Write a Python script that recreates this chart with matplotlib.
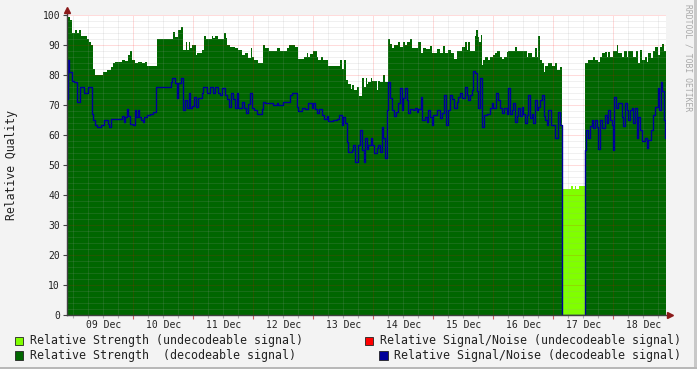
import numpy as np
import matplotlib
matplotlib.use('Agg')
import matplotlib.pyplot as plt
from matplotlib.patches import Rectangle

# ── data (time in hours since 09 Dec 00:00) ──────────────────────────────────
t_start = -2.53
t_end = 237.1

strength_t = [-2.5, -2.1, -1.3, -0.5, 0.7, 1.5, 2.3, 3.1, 5.5, 6.3, 7.1, 7.9, 8.7,
              11.9, 13.5, 15.1, 15.9, 16.7, 19.5, 20.7, 21.9, 22.7, 23.5, 24.7,
              25.9, 27.5, 28.7, 29.5, 33.5, 39.9, 40.7, 41.9, 43.1, 43.9, 45.1,
              45.5, 46.3, 46.7, 47.5, 49.1, 49.5, 51.5, 52.3, 53.1, 55.5, 55.9,
              56.7, 57.9, 60.3, 61.1, 61.5, 62.7, 64.7, 65.9, 67.5, 68.7, 69.9,
              71.1, 71.5, 72.3, 73.9, 75.9, 76.7, 78.3, 81.5, 82.7, 85.5, 86.3,
              88.7, 89.9, 92.3, 93.5, 93.9, 94.7, 95.9, 97.5, 97.9, 99.1, 99.9,
              101.9, 106.7, 107.5, 108.3, 109.1, 109.9, 111.1, 111.5, 112.3,
              113.5, 114.3, 115.5, 116.3, 117.1, 117.5, 117.9, 119.1, 119.5,
              121.5, 121.9, 122.7, 123.9, 124.7, 125.9, 126.7, 127.5, 128.3,
              129.9, 130.7, 131.9, 132.7, 133.5, 134.7, 135.5, 137.9, 139.1,
              139.9, 141.1, 142.7, 143.5, 145.5, 146.7, 147.9, 148.7, 149.9,
              151.1, 152.3, 153.5, 155.5, 156.7, 157.5, 157.9, 158.7, 160.7,
              161.1, 161.9, 162.3, 163.1, 163.5, 163.9, 164.7, 165.9, 166.7,
              167.9, 168.7, 169.5, 170.7, 171.5, 172.3, 173.5, 173.9, 176.7,
              177.5, 181.5, 181.9, 183.5, 184.7, 185.5, 185.9, 186.7, 187.5,
              188.3, 188.7, 189.9, 191.5, 192.7, 193.5, 194.7, 195.5, 204.7,
              205.9, 207.9, 208.7, 209.9, 210.7, 211.5, 212.7, 213.5, 213.9,
              214.7, 215.9, 217.5, 217.9, 219.5, 220.3, 221.5, 221.9, 223.9,
              225.1, 225.9, 226.7, 227.5, 228.7, 229.5, 229.9, 231.1, 231.9,
              232.7, 233.9, 234.7, 235.5, 236.3]
strength_v = [91, 99.5, 98.5, 94, 95, 94, 95, 93, 92, 91, 90, 82, 80,
              81, 81.7, 82.6, 84, 84.5, 85, 84.7, 86.7, 88, 85, 84,
              84.5, 84, 84.5, 83, 92, 94.5, 92.8, 95, 96, 88.3, 91,
              88.5, 91, 89, 90, 86.7, 87.3, 88.3, 93, 92, 93, 92.3,
              93, 92, 94, 92.5, 90, 89.3, 89, 88.3, 86.7, 87.5, 85.8,
              89, 86, 85, 84, 90, 89, 88, 89, 88, 89, 90,
              89.3, 85.2, 86, 87.3, 86, 87, 88, 86, 85, 86, 85,
              83, 85, 82, 85, 78.3, 77, 75.2, 76.7, 75,
              76, 73, 78.9, 76, 79, 77, 77.8, 79, 78,
              75, 78, 77.8, 80, 77.8, 92, 90.5, 89, 90,
              91, 89.5, 91, 90, 91, 92, 89, 91, 87.3,
              89, 88.6, 89.7, 87.3, 88.6, 87.3, 89.7, 87.3, 88.3,
              87.3, 85.2, 88, 89.3, 91, 88.3, 91, 88, 93,
              95, 92.7, 91, 93.3, 83.3, 85, 86, 85, 86,
              86.7, 87.3, 88, 86, 85.2, 86, 87.7, 88, 89.3,
              88, 86, 87.3, 86, 89, 86, 93, 85, 84,
              81.1, 83, 84, 83, 84, 81.7, 82.6, 0, 84,
              85, 86, 85, 84.5, 86, 87.3, 87.7, 86, 87.7,
              86, 88, 90, 87.3, 86, 88, 86, 88, 86,
              88, 84, 88.3, 85, 86, 84.5, 87.3, 85.8, 88,
              89.3, 86.7, 89.3, 90.5, 88]

weak_t = [195.5, 199.2, 199.8, 200.6, 201.0, 202.2]
weak_v = [42, 43, 42, 43, 42, 43]
weak_end = 204.7

snr_t = [-2.5, -2.1, -1.7, -0.5, 0.3, 1.5, 2.7, 4.3, 5.9, 7.5, 7.9, 8.7, 9.5,
         11.1, 12.3, 13.9, 14.3, 15.1, 19.5, 20.3, 20.7, 21.5, 21.9, 22.7,
         23.9, 24.7, 25.1, 25.9, 26.3, 27.1, 27.9, 28.3, 29.5, 30.7, 31.9,
         33.1, 39.1, 39.5, 40.7, 41.5, 41.9, 43.1, 43.9, 44.7, 45.5, 46.3,
         46.7, 47.5, 48.3, 49.1, 49.9, 51.5, 51.9, 53.5, 54.7, 55.9, 56.7,
         57.9, 58.7, 59.5, 60.7, 61.5, 62.3, 63.1, 63.9, 64.7, 65.5, 65.9,
         67.5, 68.3, 69.1, 69.9, 70.7, 71.5, 72.3, 73.5, 75.5, 75.9, 76.7,
         79.9, 81.5, 81.9, 83.9, 86.7, 87.5, 89.5, 89.9, 91.5, 92.7, 93.9,
         95.5, 95.9, 96.7, 97.5, 98.3, 99.5, 100.3, 101.5, 101.9, 103.9,
         105.5, 106.3, 107.5, 107.9, 108.7, 109.5, 109.9, 111.5, 111.9,
         112.7, 113.9, 114.7, 115.5, 116.3, 116.7, 117.5, 117.9, 119.1,
         119.5, 120.3, 121.5, 121.9, 122.7, 123.5, 123.9, 124.7, 125.5,
         125.9, 126.7, 127.5, 128.3, 129.1, 129.9, 130.7, 131.5, 131.9,
         132.7, 133.5, 133.9, 134.7, 135.9, 136.7, 137.5, 137.9, 139.1,
         139.5, 140.7, 141.5, 141.9, 142.7, 143.5, 143.9, 145.5, 146.7,
         147.5, 148.3, 149.1, 149.9, 150.7, 151.5, 152.3, 153.5, 153.9,
         154.7, 155.5, 156.7, 157.5, 157.9, 158.7, 159.5, 159.9, 160.7,
         161.5, 161.9, 162.7, 163.5, 164.3, 165.5, 166.7, 167.5, 167.9,
         169.1, 169.9, 170.7, 171.5, 172.3, 173.5, 173.9, 174.7, 175.5,
         175.9, 176.7, 177.5, 177.9, 178.7, 179.5, 179.9, 180.7, 181.5,
         181.9, 182.7, 183.5, 183.9, 184.7, 185.5, 185.9, 186.7, 187.5,
         188.3, 188.7, 189.5, 189.9, 191.1, 192.7, 193.9, 194.7, 195.5,
         204.7, 205.1, 205.9, 206.7, 207.5, 207.9, 208.7, 209.5, 209.9,
         210.7, 211.5, 212.7, 213.5, 213.9, 214.7, 215.5, 215.9, 216.3,
         217.1, 217.9, 219.5, 219.9, 220.7, 221.5, 221.9, 222.7, 223.5,
         223.9, 224.7, 225.5, 225.9, 226.7, 227.5, 228.7, 229.5, 229.9,
         231.1, 231.9, 232.7, 233.9, 234.3, 235.1, 235.5, 236.3, 236.7]
snr_v = [72, 85, 81, 78, 77.8, 71, 76, 74, 76, 67, 65, 63.3, 62.6,
         63.3, 65, 63.6, 62.8, 65.2, 66.4, 64.3, 66, 68.6, 66.4, 63.6,
         63.3, 68.3, 66, 68.3, 66, 65, 64.3, 65.9, 66.7, 67, 67.8,
         76, 77.8, 78.9, 77.3, 72.2, 77.3, 79, 68.3, 71.7, 68.9, 73.9,
         68.9, 69.8, 72.8, 69.4, 72.2, 73.9, 76, 74.1, 76, 74.1, 76,
         74, 73.4, 75.7, 73.4, 72, 69.4, 73.9, 72, 68.9, 73.9, 68.9,
         71.1, 68.9, 67.2, 70.4, 73.9, 68.9, 68.3, 67, 68.6, 71.1, 70.8,
         70, 70.8, 70, 71.1, 73.4, 73.9, 69.4, 68.1, 69, 68.6, 70.8,
         69, 70.8, 68.6, 67.2, 68.6, 66.7, 65.2, 66.2, 64.7, 65,
         65.2, 66.7, 63.3, 66, 64, 57.8, 54.4, 55.1, 56.6,
         51.1, 56.7, 61.7, 55, 51, 59, 55.2, 56.7, 59,
         56.7, 53.9, 55.6, 56.7, 54.4, 62.8, 59, 52.2, 68.3,
         77.8, 72.2, 68.3, 66.4, 67.8, 70.6, 75.6, 68.3, 72.2,
         75.6, 71.7, 67.2, 68.6, 68.3, 68.9, 67.8, 68.6, 72.8,
         65, 66, 64.4, 68.3, 66, 63.3, 66.7, 68.3, 65.6,
         67.4, 73.4, 63.3, 68.3, 73.4, 72, 69, 71.1, 72.8,
         73.9, 72.2, 76, 73.4, 71.7, 73.4, 75, 81.4, 80.6,
         74.6, 68.9, 79, 62.8, 66.7, 67, 69, 70.6, 68.9,
         73.9, 71.7, 68.9, 67.2, 68.9, 67, 75.6, 67, 68.3,
         70.8, 64.3, 66.4, 68.9, 66.2, 69.4, 67, 64.1, 66.7,
         73.4, 65.6, 67, 64, 71.7, 68.3, 69.4, 71.7, 73.4,
         66.2, 65, 63.3, 68.3, 63.3, 59, 67.7, 63.3, 0,
         55, 61.7, 59, 63, 65, 62.2, 65, 62.8, 55.2,
         65, 62.2, 66.7, 63.9, 68.3, 65, 63.3, 55, 72.8,
         68.9, 70.8, 66, 63, 70.8, 68.3, 65, 68.3, 68.9,
         64, 68.9, 59, 66, 61.7, 58, 59, 55.6, 58.3,
         61.7, 66.7, 69.4, 75.6, 68.3, 77.8, 74.6, 65, 58.9]

day_labels = ['09 Dec', '10 Dec', '11 Dec', '12 Dec', '13 Dec',
              '14 Dec', '15 Dec', '16 Dec', '17 Dec', '18 Dec']

legend_items = [
    ('Relative Strength (undecodeable signal)', '#80ff00'),
    ('Relative Signal/Noise (undecodeable signal)', '#ff0000'),
    ('Relative Strength  (decodeable signal)', '#006600'),
    ('Relative Signal/Noise (decodeable signal)', '#000099'),
]

W, H = 697, 369
MONO = 'DejaVu Sans Mono'
DARK_GREEN = '#006600'
LIGHT_GREEN = '#80ff00'
BLUE = '#000099'
ARROW = '#8b1a1a'


def steps(t, v, end):
    return np.append(t, end), np.append(v, v[-1])


fig = plt.figure(figsize=(W / 100, H / 100), dpi=100, facecolor='#f3f3f3')
ax = fig.add_axes([67 / W, 54 / H, 599 / W, 300 / H])
ax.set_facecolor('white')

# ── data layers ──────────────────────────────────────────────────────────────
x, y = steps(strength_t, strength_v, t_end)
ax.fill_between(x, 0, y, step='post', color=DARK_GREEN, lw=0, zorder=2)
x, y = steps(weak_t, weak_v, weak_end)
ax.fill_between(x, 0, y, step='post', color=LIGHT_GREEN, lw=0, zorder=2)
x, y = steps(snr_t, snr_v, t_end)
ax.step(x, y, where='post', color=BLUE, lw=1.0, zorder=4)

ax.set_xlim(t_start, t_end)
ax.set_ylim(0, 100)

# ── grid (drawn on top, like rrdtool) ────────────────────────────────────────
ax.set_xticks(np.arange(24, 237, 24))
ax.set_xticks(np.arange(0, 237, 6), minor=True)
ax.set_yticks(np.arange(0, 101, 10))
ax.set_yticks(np.arange(0, 101, 2), minor=True)
ax.set_axisbelow(False)
ax.grid(which='minor', color='#a0a0a0', alpha=0.3, ls=(0, (1, 1)), lw=0.72, zorder=5)
ax.grid(which='major', color='#ff0000', alpha=0.28, ls=(0, (1, 1)), lw=0.72, zorder=5)

ax.set_xticklabels([])
ax.tick_params(axis='x', which='major', length=3, color='#d06060', width=0.8)
ax.tick_params(axis='x', which='minor', length=2, color='#b0b0b0', width=0.8)
ax.tick_params(axis='y', which='major', length=3, color='#444444', width=0.8, pad=2)
ax.tick_params(axis='y', which='minor', length=0)
for lab in ax.get_yticklabels():
    lab.set_fontfamily(MONO)
    lab.set_fontsize(7)
    lab.set_color('#222222')

for i, lab in enumerate(day_labels):
    ax.text(12 + 24 * i, -3.4, lab, ha='center', va='center',
            fontsize=7, family=MONO, color='#222222', clip_on=False)

# ── axes with arrows ─────────────────────────────────────────────────────────
for s in ax.spines.values():
    s.set_visible(False)
ax.plot([t_start, t_start], [0, 101.5], color='#404040', lw=1, clip_on=False, zorder=6)
ax.plot([t_start, 238.5], [0, 0], color='#404040', lw=1, clip_on=False, zorder=6)
ax.plot([t_start], [101.8], marker='^', ms=4, color=ARROW, clip_on=False, zorder=7)
ax.plot([238.9], [0], marker='>', ms=4, color=ARROW, clip_on=False, zorder=7)

# ── labels ───────────────────────────────────────────────────────────────────
fig.text(12 / W, 1 - 165 / H, 'Relative Quality', rotation=90, ha='center',
         va='center', fontsize=8.3, family=MONO, color='#222222')
fig.text(688 / W, 1 - 4 / H, 'RRDTOOL / TOBI OETIKER', rotation=270, ha='center',
         va='top', fontsize=5.8, family=MONO, color='#a8a8a8')

# ── legend ───────────────────────────────────────────────────────────────────
legend_pos = [(15, 340.7), (365, 340.7), (15, 355.3), (379.3, 355.3)]
for (text, col), (lx, ly) in zip(legend_items, legend_pos):
    fig.patches.append(Rectangle((lx / W, 1 - (ly + 4.2) / H), 8.3 / W, 8.3 / H,
                                 transform=fig.transFigure, facecolor=col,
                                 edgecolor='#222222', lw=0.6))
    fig.text((lx + 15) / W, 1 - ly / H, text, ha='left', va='center',
             fontsize=8.4, family=MONO, color='#222222')

# ── frame ────────────────────────────────────────────────────────────────────
fig.patches.append(Rectangle((1 - 3 / W, 0), 3 / W, 1, transform=fig.transFigure,
                             facecolor='#c8c8c8', lw=0))
fig.patches.append(Rectangle((0, 0), 1, 2.5 / H, transform=fig.transFigure,
                             facecolor='#b8b8b8', lw=0))

fig.savefig('out.png', dpi=100, facecolor=fig.get_facecolor())
